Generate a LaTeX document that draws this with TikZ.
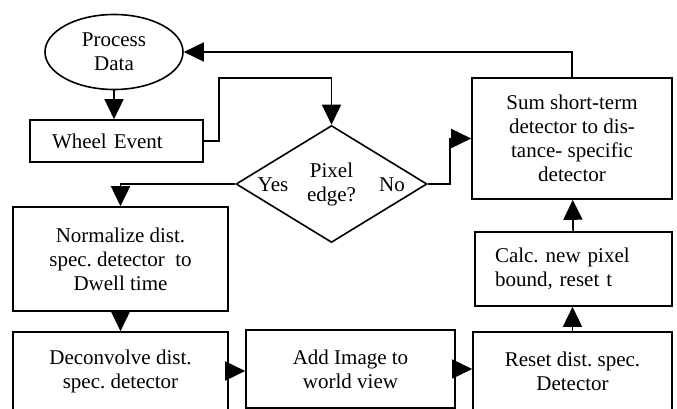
\documentclass[tikz,border=0pt]{standalone}
\usepackage{fontspec}
\setmainfont{Liberation Serif}
\frenchspacing
\usetikzlibrary{shapes.geometric,arrows.meta}

\begin{document}
\begin{tikzpicture}[x=1pt, y=-1pt,
    txt/.style={font=\fontsize{21}{24}\selectfont},
    box/.style={rectangle, draw, line width=1.6pt, inner sep=0pt, align=center, txt},
    oval/.style={ellipse, draw, line width=1.6pt, inner sep=0pt, align=center, txt},
    decision/.style={diamond, draw, line width=1.6pt, inner sep=0pt, align=center, txt},
    arrow/.style={-{Triangle[width=19pt,length=20pt]}, line width=1.6pt}
]
    \useasboundingbox (0,0) rectangle (677,409);
    \clip (0,0) rectangle (677,409);

    \node[oval, minimum width=138, minimum height=75] (proc) at (114,52) {Process\\Data};
    \node[box, minimum width=173, minimum height=42, text width=129, align=left] (wheel) at (116.5,141) {Wheel Event};
    \node[decision, minimum width=191, minimum height=117] (edge) at (331.5,184) {Pixel\\edge?};
    \node[txt] (yes) at (273,185) {Yes};
    \node[txt] (no) at (392,185) {No};
    \node[box, minimum width=200, minimum height=121] (sum) at (572,138.5) {Sum short-term\\detector to dis-\\tance- specific\\detector};
    \node[box, minimum width=215, minimum height=104] (norm) at (120.5,259) {Normalize dist.\\spec. detector~ to\\Dwell time};
    \node[box, minimum width=197, minimum height=74, text width=157, align=left] (calc) at (573.5,269) {Calc. new pixel\\bound, reset t};
    \node[box, minimum width=215, minimum height=78] (deconv) at (120.5,371) {Deconvolve dist.\\spec. detector};
    \node[box, minimum width=209, minimum height=78] (add) at (350.5,369) {Add Image to\\world view};
    \node[box, minimum width=199, minimum height=78] (reset) at (572.5,371) {Reset dist. spec.\\Detector};

    \coordinate (wturn) at (219,78);
    \coordinate (nobend) at (450,184);

    \draw[arrow] (proc.south) -- (proc.south |- wheel.north);
    \draw[arrow] (wheel.east) -| (wturn) -| (edge.north);
    \draw[arrow] (sum.north) |- (proc.east);
    \draw[arrow] (edge.east) -- (nobend) |- (sum.west);
    \draw[arrow] (edge.west) -| (norm.north);
    \draw[arrow] (norm) -- (deconv);
    \draw[arrow] (deconv.east) -- (deconv.east -| add.west);
    \draw[arrow] (add.east) -- (add.east -| reset.west);
    \draw[arrow] (reset.north) -- (reset.north |- calc.south);
    \draw[arrow] (calc) -- (sum);
\end{tikzpicture}
\end{document}
